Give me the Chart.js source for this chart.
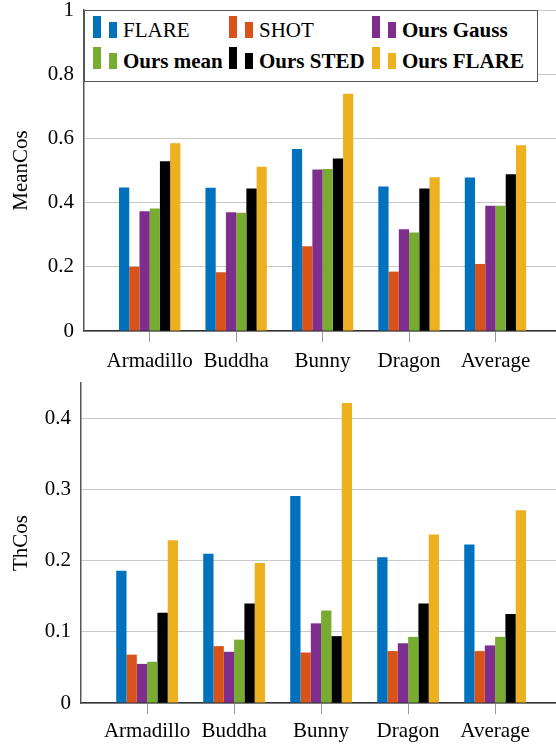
<!DOCTYPE html>
<html>
<head>
<meta charset="utf-8">
<script src="https://cdn.jsdelivr.net/npm/chart.js@4"></script>
<style>
  body { margin: 0; background: #fff; overflow: hidden; width: 556px; height: 746px; }
  .box { position: absolute; left: 0; width: 556px; }
  #legend { position: absolute; left: 84px; top: 10px; width: 454px; height: 72px;
            border: 1px solid #555; background: #fff; box-sizing: border-box; }
  .item { position: absolute; height: 22px; font-family: "Liberation Serif", serif; font-size: 21px; }
  .item span { position: absolute; }
  .item .t { left: 30px; top: 4px; line-height: 21px; white-space: nowrap; color: #000; }
</style>
</head>
<body>
<div class="box" style="top:0;height:372px"><canvas id="myChart" width="556" height="372"></canvas></div>
<div class="box" style="top:372px;height:374px"><canvas id="myChart1" width="556" height="374"></canvas></div>
<div id="legend"></div>
<script>
const categories = ['Armadillo', 'Buddha', 'Bunny', 'Dragon', 'Average'];
const seriesNames = ['FLARE', 'SHOT', 'Ours Gauss', 'Ours mean', 'Ours STED', 'Ours FLARE'];
const seriesBold = [false, false, true, true, true, true];
const colors = ['#0072BD', '#D95319', '#7E2F8E', '#77AC30', '#000000', '#EDB120'];

// MeanCos
const meanFlare = [0.447, 0.446, 0.567, 0.450, 0.478];
const meanShot = [0.200, 0.183, 0.264, 0.185, 0.209];
const meanGauss = [0.373, 0.370, 0.503, 0.317, 0.390];
const meanMean = [0.382, 0.368, 0.505, 0.307, 0.390];
const meanSted = [0.529, 0.444, 0.537, 0.444, 0.488];
const meanOurs = [0.585, 0.512, 0.739, 0.479, 0.579];

// ThCos
const thFlare = [0.186, 0.210, 0.291, 0.205, 0.223];
const thShot = [0.068, 0.080, 0.071, 0.073, 0.073];
const thGauss = [0.055, 0.072, 0.112, 0.084, 0.081];
const thMean = [0.058, 0.089, 0.130, 0.093, 0.093];
const thSted = [0.127, 0.140, 0.094, 0.140, 0.125];
const thOurs = [0.229, 0.197, 0.422, 0.237, 0.271];

const meanTicks = [0, 0.2, 0.4, 0.6, 0.8, 1];
const thTicks = [0, 0.1, 0.2, 0.3, 0.4];

Chart.defaults.font.family = 'Liberation Serif';
const font = { family: 'Liberation Serif', size: 21 };

function makeChart(el, series, yTitle, yMax, yTicks, yWidth, xHeight, padTop, labelPad) {
    return new Chart(el, {
        type: 'bar',
        data: {
            labels: categories.map((c, i) => i + 1),
            datasets: series.map((d, i) => ({
                label: seriesNames[i],
                data: d,
                backgroundColor: colors[i],
                borderWidth: 0,
                barPercentage: 1,
                categoryPercentage: 0.71
            }))
        },
        options: {
            responsive: false,
            animation: false,
            layout: { padding: { top: padTop, right: 0, left: 0, bottom: 0 } },
            plugins: { legend: { display: false }, tooltip: { enabled: false } },
            scales: {
                x: {
                    type: 'linear',
                    offset: false,
                    bounds: 'data',
                    min: 0.24,
                    max: 5.7,
                    afterBuildTicks: s => { s.ticks = categories.map((c, i) => ({ value: i + 1 })); },
                    afterFit: s => { s.height = xHeight; },
                    grid: { offset: false, drawOnChartArea: false, drawTicks: true, tickLength: 11, color: '#999' },
                    border: { color: '#333', width: 1.5 },
                    ticks: { font: font, color: '#000', padding: labelPad,
                             callback: v => categories[v - 1] }
                },
                y: {
                    min: 0,
                    max: yMax,
                    afterBuildTicks: s => { s.ticks = yTicks.map(v => ({ value: v })); },
                    afterFit: s => { s.width = yWidth; s.paddingTop = 0; s.paddingBottom = 0; },
                    grid: { color: '#c8c8c8', drawTicks: false },
                    border: { color: '#555', width: 1.5 },
                    ticks: { font: font, color: '#000', padding: 10,
                             callback: v => String(+v.toFixed(2)) },
                    title: { display: true, text: yTitle, font: font, color: '#000',
                             padding: { top: 9, bottom: 0 } }
                }
            }
        }
    });
}

makeChart(document.getElementById('myChart'),
    [meanFlare, meanShot, meanGauss, meanMean, meanSted, meanOurs],
    'MeanCos', 1, meanTicks, 84, 41, 10, 7);

makeChart(document.getElementById('myChart1'),
    [thFlare, thShot, thGauss, thMean, thSted, thOurs],
    'ThCos', 0.45, thTicks, 81, 43, 11, 5);

// legend box (pgfplots style two-bar markers)
const legend = document.getElementById('legend');
const colX = [8, 144, 287];
const rowY = [5, 36];
seriesNames.forEach((name, i) => {
    const item = document.createElement('div');
    item.className = 'item';
    item.style.left = colX[i % 3] + 'px';
    item.style.top = rowY[Math.floor(i / 3)] + 'px';
    const tall = document.createElement('span');
    tall.style.cssText = 'left:0;top:0;width:8px;height:22px;background:' + colors[i];
    const short = document.createElement('span');
    short.style.cssText = 'left:16px;top:6px;width:8px;height:16px;background:' + colors[i];
    const t = document.createElement('span');
    t.className = 't';
    t.textContent = name;
    if (seriesBold[i]) t.style.fontWeight = 'bold';
    item.appendChild(tall);
    item.appendChild(short);
    item.appendChild(t);
    legend.appendChild(item);
});
</script>
</body>
</html>
